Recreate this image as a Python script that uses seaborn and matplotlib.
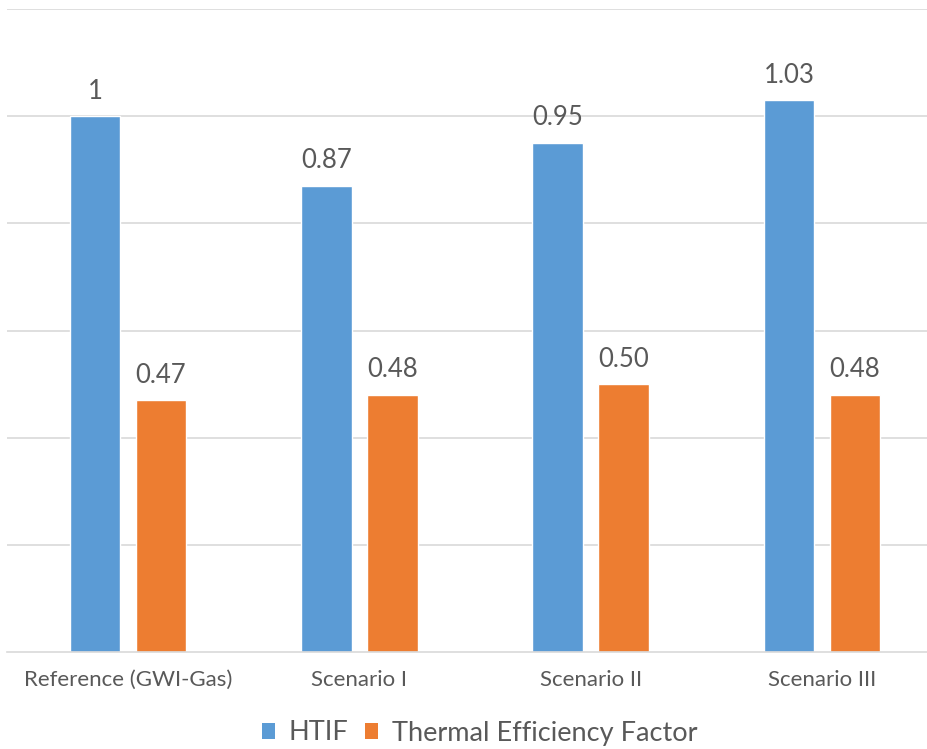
import matplotlib
matplotlib.use("Agg")
import matplotlib.pyplot as plt
import seaborn as sns
import pandas as pd
from matplotlib.patches import Patch

categories = ["Reference (GWI-Gas)", "Scenario I", "Scenario II", "Scenario III"]
htif = [1.00, 0.87, 0.95, 1.03]
thermal_eff = [0.47, 0.48, 0.50, 0.48]
htif_labels = ["1", "0.87", "0.95", "1.03"]
thermal_labels = ["0.47", "0.48", "0.50", "0.48"]
series_names = ["HTIF", "Thermal Efficiency Factor"]
colors = ["#5B9BD5", "#ED7D31"]

df = pd.DataFrame({
    "category": categories * 2,
    "value": htif + thermal_eff,
    "series": [series_names[0]] * 4 + [series_names[1]] * 4,
})

sns.set_theme(style="white")
plt.rcParams["font.family"] = ["Lato", "DejaVu Sans"]
text_color = "#595959"

fig = plt.figure(figsize=(9.27, 7.49), dpi=100)
ax = fig.add_axes([7 / 927, 97 / 749, 920 / 927, 643 / 749])

sns.barplot(data=df, x="category", y="value", hue="series", order=categories,
            hue_order=series_names, palette=colors, width=0.571, gap=0.23,
            saturation=1, legend=False, ax=ax)

for cont, labels in zip(ax.containers, [htif_labels, thermal_labels]):
    ax.bar_label(cont, labels=labels, padding=9, fontsize=18.5, color=text_color)

ax.set_ylim(0, 1.2)
ax.set_xlim(-0.523, 3.454)
ax.set_yticks([0.2, 0.4, 0.6, 0.8, 1.0, 1.2])
ax.set_yticklabels([])
ax.yaxis.grid(True, color="#D9D9D9", linewidth=1.2)
ax.set_axisbelow(True)
for side in ["top", "left", "right"]:
    ax.spines[side].set_visible(False)
ax.spines["bottom"].set_color("#D9D9D9")
ax.spines["bottom"].set_linewidth(1.2)
ax.tick_params(axis="x", length=0, pad=13, labelsize=16, labelcolor=text_color)
ax.tick_params(axis="y", length=0)
ax.set_xlabel("")
ax.set_ylabel("")

handles = [Patch(facecolor=c, edgecolor="none") for c in colors]
fig.legend(handles, series_names, loc="center", bbox_to_anchor=(479.5 / 927, 1 - 733 / 749),
           ncol=2, frameon=False, fontsize=19.5, labelcolor=text_color,
           handlelength=0.5, handleheight=0.5, handletextpad=0.5, columnspacing=0.6)

fig.savefig("out.png", dpi=100)
